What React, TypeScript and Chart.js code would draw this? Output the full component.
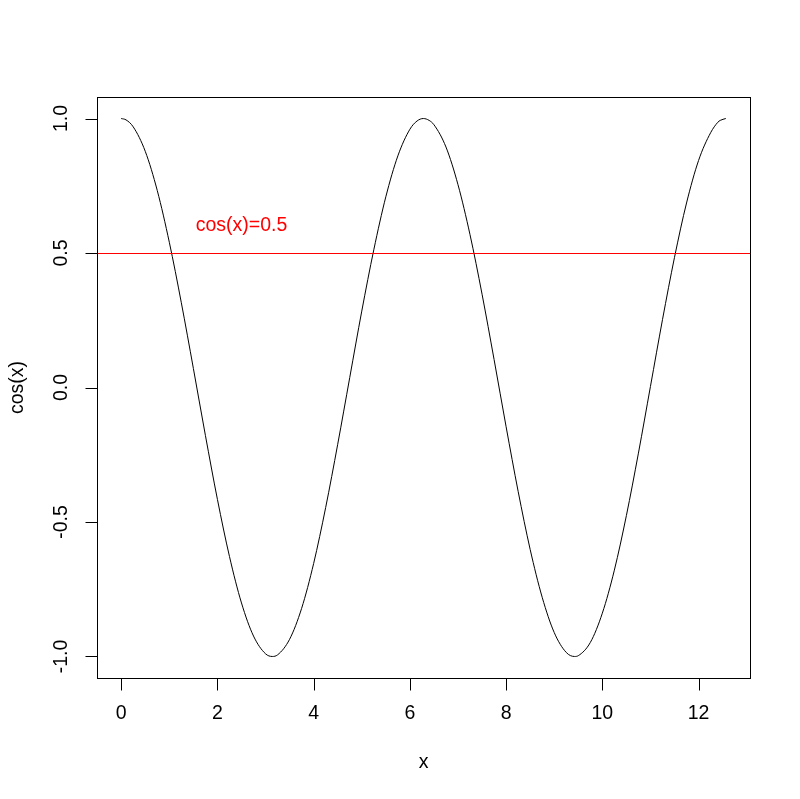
import React, { useEffect, useRef } from "react";
import { Chart, registerables } from "chart.js";

Chart.register(...registerables);

const XS = [0, 0.1, 0.25, 0.5, 0.75, 1.0, 1.25, 1.5, 1.75, 2.0, 2.25, 2.5, 2.75, 3.0, 3.14, 3.25, 3.5, 3.75, 4.0, 4.25, 4.5, 4.75, 5.0, 5.25, 5.5, 5.75, 6.0, 6.15, 6.28, 6.4, 6.5, 6.75, 7.0, 7.25, 7.5, 7.75, 8.0, 8.25, 8.5, 8.75, 9.0, 9.25, 9.42, 9.5, 9.75, 10.0, 10.25, 10.5, 10.75, 11.0, 11.25, 11.5, 11.75, 12.0, 12.25, 12.4, 12.45, 12.566];
const YS = [1.0, 0.995, 0.969, 0.878, 0.732, 0.54, 0.315, 0.071, -0.178, -0.416, -0.628, -0.801, -0.924, -0.99, -1.0, -0.994, -0.936, -0.821, -0.654, -0.446, -0.211, 0.037, 0.284, 0.512, 0.709, 0.861, 0.96, 0.991, 1.0, 0.993, 0.977, 0.894, 0.754, 0.568, 0.347, 0.104, -0.146, -0.386, -0.602, -0.78, -0.911, -0.985, -1.0, -0.997, -0.948, -0.839, -0.679, -0.476, -0.244, 0.004, 0.252, 0.484, 0.686, 0.844, 0.947, 0.986, 0.993, 1.0];

const X_TICKS = [0, 2, 4, 6, 8, 10, 12];
const X_TICK_LABELS = ["0", "2", "4", "6", "8", "10", "12"];
const Y_TICKS = [-1, -0.5, 0, 0.5, 1];
const Y_TICK_LABELS = ["-1.0", "-0.5", "0.0", "0.5", "1.0"];
const X_RANGE = [-0.503, 13.069];
const Y_RANGE = [-1.08, 1.08];

const HLINE_Y = [0.5];
const NOTE_TEXT = ["cos(x)=0.5"];
const NOTE_X = [2.5];
const NOTE_Y = [0.6];

const X_TITLE = "x";
const Y_TITLE = "cos(x)";

const FONT = '19.5px "Liberation Sans", Arial, sans-serif';

const rAxesPlugin = {
  id: "rAxes",
  afterDraw(chart: any) {
    const ctx = chart.ctx;
    const a = chart.chartArea;
    const xs = chart.scales.x;
    const ys = chart.scales.y;
    const tick = 12;
    ctx.save();
    // abline (red, 1px)
    ctx.fillStyle = "#FF0000";
    HLINE_Y.forEach((v) => {
      const py = Math.round(ys.getPixelForValue(v));
      ctx.fillRect(a.left, py, a.right - a.left, 1);
    });
    // note
    ctx.fillStyle = "#FF0000";
    ctx.font = FONT;
    ctx.textAlign = "center";
    ctx.textBaseline = "middle";
    NOTE_TEXT.forEach((t, i) => {
      ctx.fillText(t, xs.getPixelForValue(NOTE_X[i]), ys.getPixelForValue(NOTE_Y[i]));
    });
    // box
    ctx.strokeStyle = "#000000";
    ctx.lineWidth = 1;
    ctx.strokeRect(a.left + 0.5, a.top + 0.5, a.right - a.left, a.bottom - a.top);
    // x axis
    const bx = a.bottom + 0.5;
    ctx.beginPath();
    ctx.moveTo(Math.round(xs.getPixelForValue(X_TICKS[0])) + 0.5, bx);
    ctx.lineTo(Math.round(xs.getPixelForValue(X_TICKS[X_TICKS.length - 1])) + 0.5, bx);
    X_TICKS.forEach((v) => {
      const px = Math.round(xs.getPixelForValue(v)) + 0.5;
      ctx.moveTo(px, bx);
      ctx.lineTo(px, bx + tick);
    });
    ctx.stroke();
    ctx.fillStyle = "#000000";
    ctx.textAlign = "center";
    ctx.textBaseline = "middle";
    X_TICKS.forEach((v, i) => {
      ctx.fillText(X_TICK_LABELS[i], xs.getPixelForValue(v), a.bottom + 36);
    });
    // y axis
    const lx = a.left + 0.5;
    ctx.beginPath();
    ctx.moveTo(lx, Math.round(ys.getPixelForValue(Y_TICKS[0])) + 0.5);
    ctx.lineTo(lx, Math.round(ys.getPixelForValue(Y_TICKS[Y_TICKS.length - 1])) + 0.5);
    Y_TICKS.forEach((v) => {
      const py = Math.round(ys.getPixelForValue(v)) + 0.5;
      ctx.moveTo(lx, py);
      ctx.lineTo(lx - tick, py);
    });
    ctx.stroke();
    Y_TICKS.forEach((v, i) => {
      ctx.save();
      ctx.translate(a.left - 35, ys.getPixelForValue(v));
      ctx.rotate(-Math.PI / 2);
      ctx.fillText(Y_TICK_LABELS[i], 0, 0);
      ctx.restore();
    });
    // titles
    ctx.fillText(X_TITLE, (a.left + a.right) / 2, a.bottom + 85);
    ctx.save();
    ctx.translate(18, (a.top + a.bottom) / 2);
    ctx.rotate(-Math.PI / 2);
    ctx.fillText(Y_TITLE, 0, 0);
    ctx.restore();
    ctx.restore();
  },
};

export default function App() {
  const ref = useRef<HTMLCanvasElement | null>(null);
  useEffect(() => {
    if (!ref.current) return;
    const chart = new Chart(ref.current, {
      type: "scatter",
      data: {
        datasets: [
          {
            data: XS.map((x, i) => ({ x, y: YS[i] })),
            showLine: true,
            borderColor: "#000000",
            borderWidth: 1,
            pointRadius: 0,
            cubicInterpolationMode: "monotone",
            fill: false,
          },
        ],
      },
      options: {
        responsive: false,
        animation: false,
        events: [],
        layout: { padding: { left: 97, top: 97, right: 50, bottom: 121 } },
        plugins: { legend: { display: false }, tooltip: { enabled: false }, title: { display: false } },
        scales: {
          x: { type: "linear", display: false, min: X_RANGE[0], max: X_RANGE[1] },
          y: { type: "linear", display: false, min: Y_RANGE[0], max: Y_RANGE[1] },
        },
      },
      plugins: [rAxesPlugin],
    });
    return () => chart.destroy();
  }, []);
  return (
    <div style={{ position: "absolute", left: 0, top: 0, width: 800, height: 799, background: "#ffffff" }}>
      <canvas ref={ref} width={800} height={799} />
    </div>
  );
}
